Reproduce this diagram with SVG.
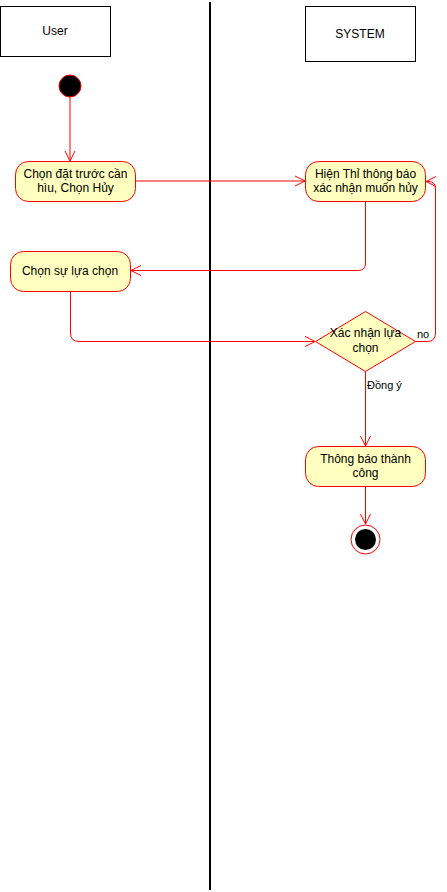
<svg xmlns="http://www.w3.org/2000/svg" width="447" height="892" viewBox="0 0 447 892">
<style>
text{font-family:"Liberation Sans",Arial,sans-serif;font-size:12px;fill:#000;text-anchor:middle}
.lane{fill:#fff;stroke:#000;stroke-width:1}
.act{fill:#FFFFC0;stroke:#FF0000;stroke-width:1}
.edge{fill:none;stroke:#FF0000;stroke-width:1}
.lbl{text-anchor:start;font-size:11px}
</style>
<defs>
<marker id="arr" viewBox="0 0 12 12" refX="11" refY="6" markerWidth="12" markerHeight="12" markerUnits="userSpaceOnUse" orient="auto">
<path d="M1,1 L11,6 L1,11" fill="none" stroke="#FF0000" stroke-width="1"/>
</marker>
</defs>
<rect width="447" height="892" fill="#fff"/>
<line x1="210" y1="2" x2="210" y2="890" stroke="#000" stroke-width="2"/>
<g id="lane-user"><rect class="lane" x="0.5" y="6.5" width="110" height="50"/><text x="55" y="35">User</text></g>
<g id="lane-system"><rect class="lane" x="305.5" y="6.5" width="110" height="55"/><text x="360" y="38">SYSTEM</text></g>
<g id="connectors">
<path class="edge" d="M70,97 L70,161" marker-end="url(#arr)"/>
<path class="edge" d="M136,181 L305,181" marker-end="url(#arr)"/>
<path class="edge" d="M365.5,201 L365.5,263 Q365.5,270.5 358,270.5 L131,270.5" marker-end="url(#arr)"/>
<path class="edge" d="M70.5,291 L70.5,333 Q70.5,341.5 79,341.5 L315,341.5" marker-end="url(#arr)"/>
<path class="edge" d="M415,341.5 L427,341.5 Q435.5,341.5 435.5,333 L435.5,189 Q435.5,181.5 429,181.5 L426,181.5" marker-end="url(#arr)"/>
<path class="edge" d="M365.5,371 L365.5,446" marker-end="url(#arr)"/>
<path class="edge" d="M365.5,486 L365.5,524" marker-end="url(#arr)"/>
<text class="lbl" x="417" y="338">no</text>
<text class="lbl" x="367" y="389">Đồng ý</text>
</g>
<g id="start"><circle cx="70" cy="86" r="11" fill="#000" stroke="#FF0000" stroke-width="1"/></g>
<g id="n1"><rect class="act" x="15.5" y="161.5" width="120" height="40" rx="13"/><text x="75.5" y="178">Chọn đặt trước cần</text><text x="75.5" y="192">hìu, Chọn Hủy</text></g>
<g id="n2"><rect class="act" x="305.5" y="161.5" width="120" height="40" rx="13"/><text x="365.5" y="178">Hiện Thỉ thông báo</text><text x="365.5" y="192">xác nhận muốn hủy</text></g>
<g id="n3"><rect class="act" x="10.5" y="251.5" width="120" height="40" rx="13"/><text x="70" y="275">Chọn sự lựa chọn</text></g>
<g id="decision"><polygon class="act" points="365.5,311.5 415.5,341.5 365.5,371.5 315.5,341.5"/><text x="365.5" y="337">Xác nhận lựa</text><text x="365.5" y="352">chọn</text></g>
<g id="n4"><rect class="act" x="305.5" y="446.5" width="120" height="40" rx="13"/><text x="365.5" y="463">Thông báo thành</text><text x="365.5" y="477">công</text></g>
<g id="end"><circle cx="365.5" cy="539.5" r="14.5" fill="#fff" stroke="#FF0000" stroke-width="1"/><circle cx="365.5" cy="539.5" r="10.5" fill="#000"/></g>
</svg>
